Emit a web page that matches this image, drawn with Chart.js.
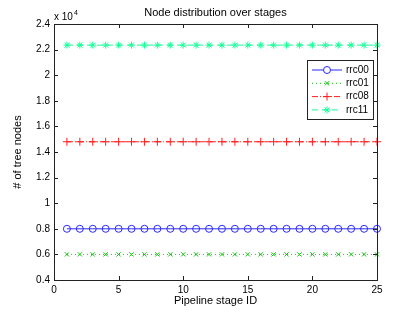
<!DOCTYPE html>
<html>
<head>
<meta charset="utf-8">
<script src="https://cdn.jsdelivr.net/npm/chart.js@4"></script>
<style>
  html, body { margin: 0; padding: 0; background: #fff; }
  #wrap { width: 415px; height: 312px; }
</style>
</head>
<body>
<div id="wrap"><canvas id="myChart" width="415" height="312"></canvas></div>
<script>
// stages 1..25, node counts per stage (y axis is x 10^4)
var stages = [1, 2, 3, 4, 5, 6, 7, 8, 9, 10, 11, 12, 13, 14, 15, 16, 17, 18, 19, 20, 21, 22, 23, 24, 25];
var rrc00 = [8000, 8000, 8000, 8000, 8000, 8000, 8000, 8000, 8000, 8000, 8000, 8000, 8000, 8000, 8000, 8000, 8000, 8000, 8000, 8000, 8000, 8000, 8000, 8000, 8000];
var rrc01 = [6000, 6000, 6000, 6000, 6000, 6000, 6000, 6000, 6000, 6000, 6000, 6000, 6000, 6000, 6000, 6000, 6000, 6000, 6000, 6000, 6000, 6000, 6000, 6000, 6000];
var rrc08 = [14800, 14800, 14800, 14800, 14800, 14800, 14800, 14800, 14800, 14800, 14800, 14800, 14800, 14800, 14800, 14800, 14800, 14800, 14800, 14800, 14800, 14800, 14800, 14800, 14800];
var rrc11 = [22350, 22350, 22350, 22350, 22350, 22350, 22350, 22350, 22350, 22350, 22350, 22350, 22350, 22350, 22350, 22350, 22350, 22350, 22350, 22350, 22350, 22350, 22350, 22350, 22350];
var xTicks = [0, 5, 10, 15, 20, 25];
var yTicks = [4000, 6000, 8000, 10000, 12000, 14000, 16000, 18000, 20000, 22000, 24000];

var FONT = 'Liberation Sans, Arial, Helvetica, sans-serif';

function pts(vals) {
    return stages.map(function (s, i) { return { x: s, y: vals[i] }; });
}

var series = [
    { label: 'rrc00', data: rrc00, color: 'rgb(40,40,255)', dash: [], style: 'circle', r: 3.5 },
    { label: 'rrc01', data: rrc01, color: 'rgb(20,190,20)', dash: [1, 3], style: 'crossRot', r: 3 },
    { label: 'rrc08', data: rrc08, color: 'rgb(255,30,30)', dash: [6, 2, 1, 2], style: 'cross', r: 4 },
    { label: 'rrc11', data: rrc11, color: 'rgb(20,255,150)', dash: [6, 4], style: 'star', r: 3.5 }
];

// matlab-like box, inward ticks, titles and legend
var matlabPlugin = {
    id: 'matlab',
    afterDraw: function (chart) {
        var c = chart.ctx, a = chart.chartArea;
        var xs = chart.scales.x, ys = chart.scales.y;
        c.save();
        c.strokeStyle = '#222';
        c.lineWidth = 1;
        c.setLineDash([]);
        c.strokeRect(Math.round(a.left) + 0.5, Math.round(a.top) + 0.5, Math.round(a.right - a.left), Math.round(a.bottom - a.top));
        c.beginPath();
        xTicks.forEach(function (t) {
            var px = Math.round(xs.getPixelForValue(t)) + 0.5;
            c.moveTo(px, a.bottom); c.lineTo(px, a.bottom - 4);
            c.moveTo(px, a.top); c.lineTo(px, a.top + 4);
        });
        yTicks.forEach(function (t) {
            var py = Math.round(ys.getPixelForValue(t)) + 0.5;
            c.moveTo(a.left, py); c.lineTo(a.left + 4, py);
            c.moveTo(a.right, py); c.lineTo(a.right - 4, py);
        });
        c.stroke();

        c.fillStyle = '#000';
        c.font = '10px ' + FONT;
        c.textAlign = 'center';
        c.textBaseline = 'top';
        xTicks.forEach(function (t) {
            c.fillText(String(t), xs.getPixelForValue(t), a.bottom + 5);
        });
        c.textAlign = 'right';
        c.textBaseline = 'middle';
        yTicks.forEach(function (t) {
            c.fillText((t / 1e4).toFixed(1).replace(/\.0$/, ''), a.left - 4, ys.getPixelForValue(t));
        });
        // x 10^4
        c.textAlign = 'left';
        c.textBaseline = 'alphabetic';
        c.font = '10px ' + FONT;
        c.fillText('x 10', a.left, a.top - 4);
        c.font = '7px ' + FONT;
        c.fillText('4', a.left + 20, a.top - 9);

        c.font = '11px ' + FONT;
        c.textAlign = 'center';
        c.textBaseline = 'alphabetic';
        c.fillText('Node distribution over stages', (a.left + a.right) / 2, 16);
        c.fillText('Pipeline stage ID', (a.left + a.right) / 2, 304);
        c.save();
        c.translate(21, (a.top + a.bottom) / 2);
        c.rotate(-Math.PI / 2);
        c.fillText('# of tree nodes', 0, 0);
        c.restore();

        // legend
        var lx = 307, ly = 60, lw = 66, lh = 59;
        c.fillStyle = '#fff';
        c.fillRect(lx, ly, lw, lh);
        c.strokeStyle = '#222';
        c.strokeRect(lx + 0.5, ly + 0.5, lw, lh);
        series.forEach(function (s, i) {
            var yy = ly + 10 + i * 13.3;
            c.strokeStyle = s.color;
            c.lineWidth = 1;
            c.setLineDash(s.dash);
            c.beginPath();
            c.moveTo(lx + 5, yy); c.lineTo(lx + 35, yy);
            c.stroke();
            c.setLineDash([]);
            Chart.helpers.drawPoint(c, { pointStyle: s.style, radius: s.r, borderWidth: 1 }, lx + 20, yy);
            c.fillStyle = '#000';
            c.font = '10px ' + FONT;
            c.textAlign = 'left';
            c.textBaseline = 'middle';
            c.fillText(s.label, lx + 39, yy);
        });
        c.restore();
    }
};

var ctx = document.getElementById('myChart').getContext('2d');
var chart = new Chart(ctx, {
    type: 'line',
    data: {
        datasets: series.map(function (s) {
            return {
                label: s.label,
                data: pts(s.data),
                borderColor: s.color,
                backgroundColor: 'rgba(0,0,0,0)',
                borderWidth: 1,
                borderDash: s.dash,
                pointStyle: s.style,
                pointRadius: s.r,
                pointBorderColor: s.color,
                pointBorderWidth: 1,
                pointBackgroundColor: 'rgba(0,0,0,0)',
                fill: false,
                clip: false,
                tension: 0
            };
        })
    },
    options: {
        responsive: false,
        animation: false,
        events: [],
        layout: { padding: { top: 24, right: 38, bottom: 32, left: 54 } },
        plugins: { legend: { display: false }, title: { display: false }, tooltip: { enabled: false } },
        scales: {
            x: {
                type: 'linear', min: 0, max: 25,
                ticks: { display: false, stepSize: 5 },
                grid: { display: false },
                border: { display: false },
                afterFit: function (s) { s.height = 0; }
            },
            y: {
                min: 4000, max: 24000,
                ticks: { display: false, stepSize: 2000 },
                grid: { display: false },
                border: { display: false },
                afterFit: function (s) { s.width = 0; }
            }
        }
    },
    plugins: [matlabPlugin]
});
</script>
</body>
</html>
